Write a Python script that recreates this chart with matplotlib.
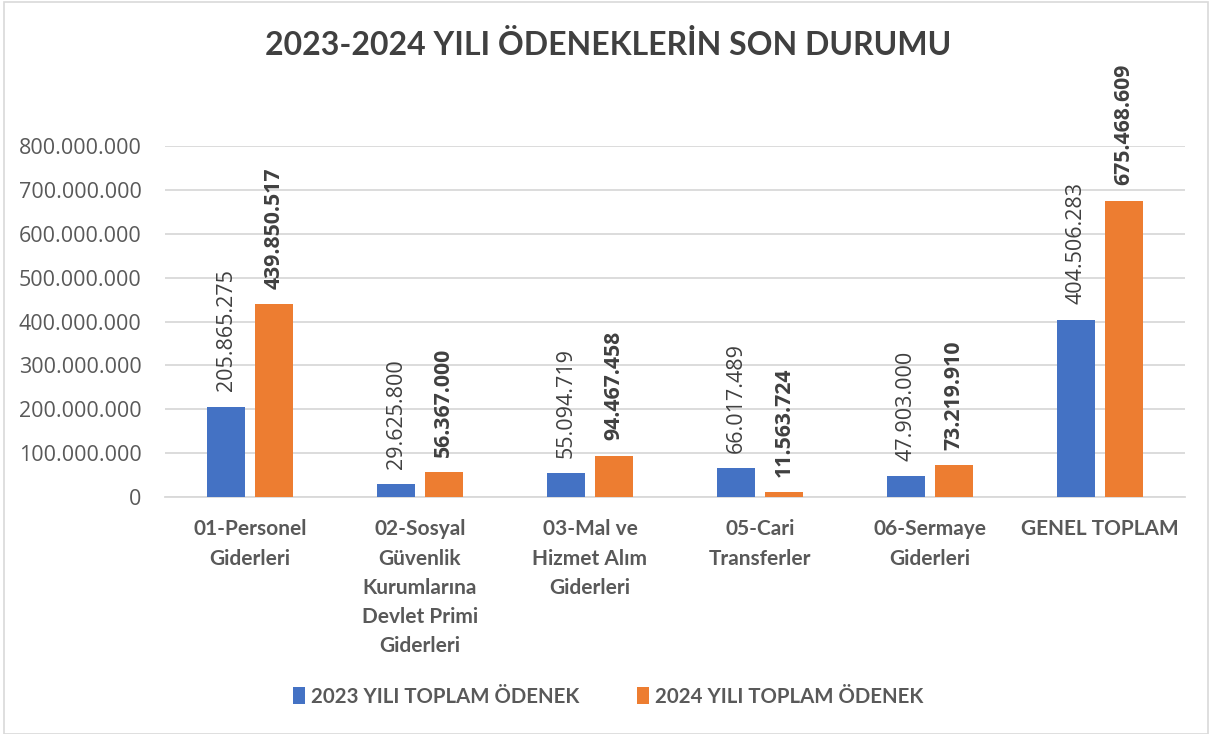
import matplotlib.pyplot as plt
import numpy as np
from matplotlib.ticker import FuncFormatter
from matplotlib.patches import Rectangle

categories = ["01-Personel\nGiderleri",
              "02-Sosyal\nGüvenlik\nKurumlarına\nDevlet Primi\nGiderleri",
              "03-Mal ve\nHizmet Alım\nGiderleri",
              "05-Cari\nTransferler",
              "06-Sermaye\nGiderleri",
              "GENEL TOPLAM"]
odenek_2023 = [205865275, 29625800, 55094719, 66017489, 47903000, 404506283]
odenek_2024 = [439850517, 56367000, 94467458, 11563724, 73219910, 675468609]
series_names = ["2023 YILI TOPLAM ÖDENEK", "2024 YILI TOPLAM ÖDENEK"]

blue = "#4472C4"
orange = "#ED7D31"
text_col = "#595959"

def tr_fmt(v):
    return f"{int(round(v)):,}".replace(",", ".")

fig = plt.figure(figsize=(12.16, 7.34), dpi=100)
ax = fig.add_axes([165 / 1216, 1 - 497 / 734, 1020 / 1216, 351 / 734])

x = np.arange(len(categories))
w = 0.225
off = 0.14
b1 = ax.bar(x - off, odenek_2023, w, color=blue, label=series_names[0], zorder=3)
b2 = ax.bar(x + off, odenek_2024, w, color=orange, label=series_names[1], zorder=3)

for rect, v in zip(b1, odenek_2023):
    ax.annotate(tr_fmt(v), (rect.get_x() + rect.get_width() / 2, v),
                xytext=(0, 11), textcoords="offset points", rotation=90,
                ha="center", va="bottom", fontsize=15.5, color="#404040",
                family="Open Sans")
for rect, v in zip(b2, odenek_2024):
    ax.annotate(tr_fmt(v), (rect.get_x() + rect.get_width() / 2, v),
                xytext=(0, 11), textcoords="offset points", rotation=90,
                ha="center", va="bottom", fontsize=15.3, color="#404040",
                family="Open Sans", fontweight="bold")

ax.set_xlim(-0.5, len(categories) - 0.5)
ax.set_ylim(0, 800000000)
ax.set_yticks(np.arange(0, 800000001, 100000000))
ax.yaxis.set_major_formatter(FuncFormatter(lambda v, p: tr_fmt(v)))
ax.set_xticks(x)
ax.set_xticklabels(categories, fontsize=15, fontweight="bold", color=text_col,
                   family="Lato", linespacing=1.58, va="top")
for lbl in ax.get_yticklabels():
    lbl.set_fontsize(15.5)
    lbl.set_color(text_col)
    lbl.set_family("Open Sans")

ax.grid(axis="y", color="#D9D9D9", linewidth=1.3, zorder=0)
ax.tick_params(axis="both", length=0)
ax.tick_params(axis="x", pad=16)
ax.tick_params(axis="y", pad=17)
for s in ["top", "right", "left"]:
    ax.spines[s].set_visible(False)
ax.spines["bottom"].set_color("#D9D9D9")
ax.spines["bottom"].set_linewidth(1.3)

fig.text(0.5, 1 - 45 / 734, "2023-2024 YILI ÖDENEKLERİN SON DURUMU",
         ha="center", va="center", fontsize=23, fontweight="bold",
         color="#404040", family="Lato")

leg = fig.legend(loc="center", bbox_to_anchor=(0.5, 1 - 697 / 734), ncol=2,
                 frameon=False, handlelength=0.6, handleheight=0.9,
                 columnspacing=2.8, handletextpad=0.3,
                 prop={"family": "Lato", "weight": "bold", "size": 14.7})
for t in leg.get_texts():
    t.set_color(text_col)

fig.patches.append(Rectangle((4 / 1216, 0), 1204 / 1216, 1 - 2 / 734,
                             transform=fig.transFigure, fill=False,
                             edgecolor="#D9D9D9", linewidth=1.2))

fig.savefig("out.png", dpi=100)
